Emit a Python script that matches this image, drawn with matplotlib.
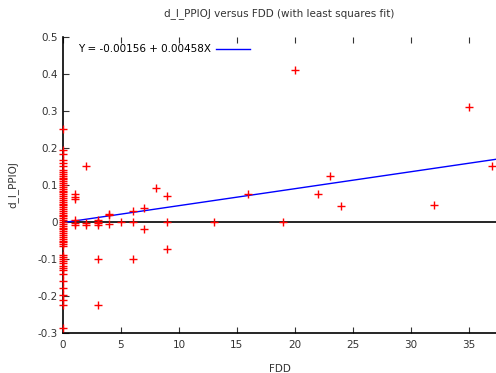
import numpy as np
import matplotlib
matplotlib.use('Agg')
import matplotlib.pyplot as plt

# Данные: FDD и d_I_PPIOJ
fdd_zero = [0.252, 0.195, 0.185, 0.168, 0.16, 0.152, 0.14, 0.135, 0.13, 0.125,
            0.12, 0.115, 0.11, 0.105, 0.1, 0.095, 0.09, 0.085, 0.08, 0.075,
            0.07, 0.065, 0.06, 0.055, 0.05, 0.045, 0.04, 0.035, 0.03, 0.025,
            0.02, 0.015, 0.01, 0.005, 0.0, -0.005, -0.01, -0.015, -0.02, -0.025,
            -0.03, -0.035, -0.04, -0.045, -0.05, -0.055, -0.06, -0.065, -0.09,
            -0.095, -0.1, -0.105, -0.11, -0.12, -0.125, -0.13, -0.14, -0.16,
            -0.178, -0.196, -0.21, -0.224, -0.286]
x_rest = [1, 1, 1, 1, 1, 1, 2, 2, 2, 3, 3, 3, 3, 3, 3, 4, 4, 4, 5, 6, 6, 6,
          7, 7, 8, 9, 9, 9, 13, 16, 19, 20, 22, 23, 24, 32, 35, 37]
y_rest = [0.076, 0.068, 0.061, 0.005, -0.003, -0.008, 0.152, -0.003, -0.008,
          0.005, 0.0, -0.003, -0.008, -0.101, -0.223, 0.022, 0.018, -0.005,
          0.0, 0.029, 0.0, -0.101, 0.038, -0.02, 0.091, 0.071, 0.0, -0.074,
          -0.001, 0.076, 0.0, 0.41, 0.075, 0.124, 0.043, 0.045, 0.311, 0.151]

x = [0] * len(fdd_zero) + x_rest
y = fdd_zero + y_rest

a, b = -0.00156, 0.00458
fit_label = 'Y = -0.00156 + 0.00458X'

plt.rcParams['font.family'] = 'DejaVu Sans'
plt.rcParams['font.size'] = 7.5

fig = plt.figure(figsize=(4.96, 3.73), dpi=100)
ax = fig.add_axes([0.127, 0.107, 0.873, 0.794])

ax.axhline(0, color='black', lw=1.2, zorder=1)
ax.plot(x, y, '+', color='red', ms=6, mew=1, clip_on=False, zorder=3)
xf = np.array([0, 37.35])
ax.plot(xf, a + b * xf, color='blue', lw=1, label=fit_label, zorder=2)

ax.set_xlim(0, 37.35)
ax.set_ylim(-0.3, 0.5)
ax.set_xticks(range(0, 36, 5))
ax.set_yticks([-0.3, -0.2, -0.1, 0, 0.1, 0.2, 0.3, 0.4, 0.5])
ax.set_yticklabels(['-0.3', '-0.2', '-0.1', '0', '0.1', '0.2', '0.3', '0.4', '0.5'])
ax.tick_params(direction='in', top=True, length=4, width=0.8, colors='#333333')
ax.tick_params(axis='x', pad=5)
ax.tick_params(labelcolor='#333333')
ax.spines['top'].set_visible(False)
ax.spines['right'].set_visible(False)
ax.spines['left'].set_linewidth(1.2)
ax.spines['bottom'].set_linewidth(1.2)

ax.set_title('d_I_PPIOJ versus FDD (with least squares fit)', fontsize=7.5,
             color='#333333', pad=15)
ax.set_xlabel('FDD', color='#333333', labelpad=10)
ax.set_ylabel('d_I_PPIOJ', color='#333333', labelpad=14)

leg = ax.legend(loc='upper left', frameon=False, markerfirst=False,
                handlelength=3.2, handletextpad=0.5, borderaxespad=0.3,
                bbox_to_anchor=(0.018, 1.0))

fig.savefig('out.png', dpi=100)
